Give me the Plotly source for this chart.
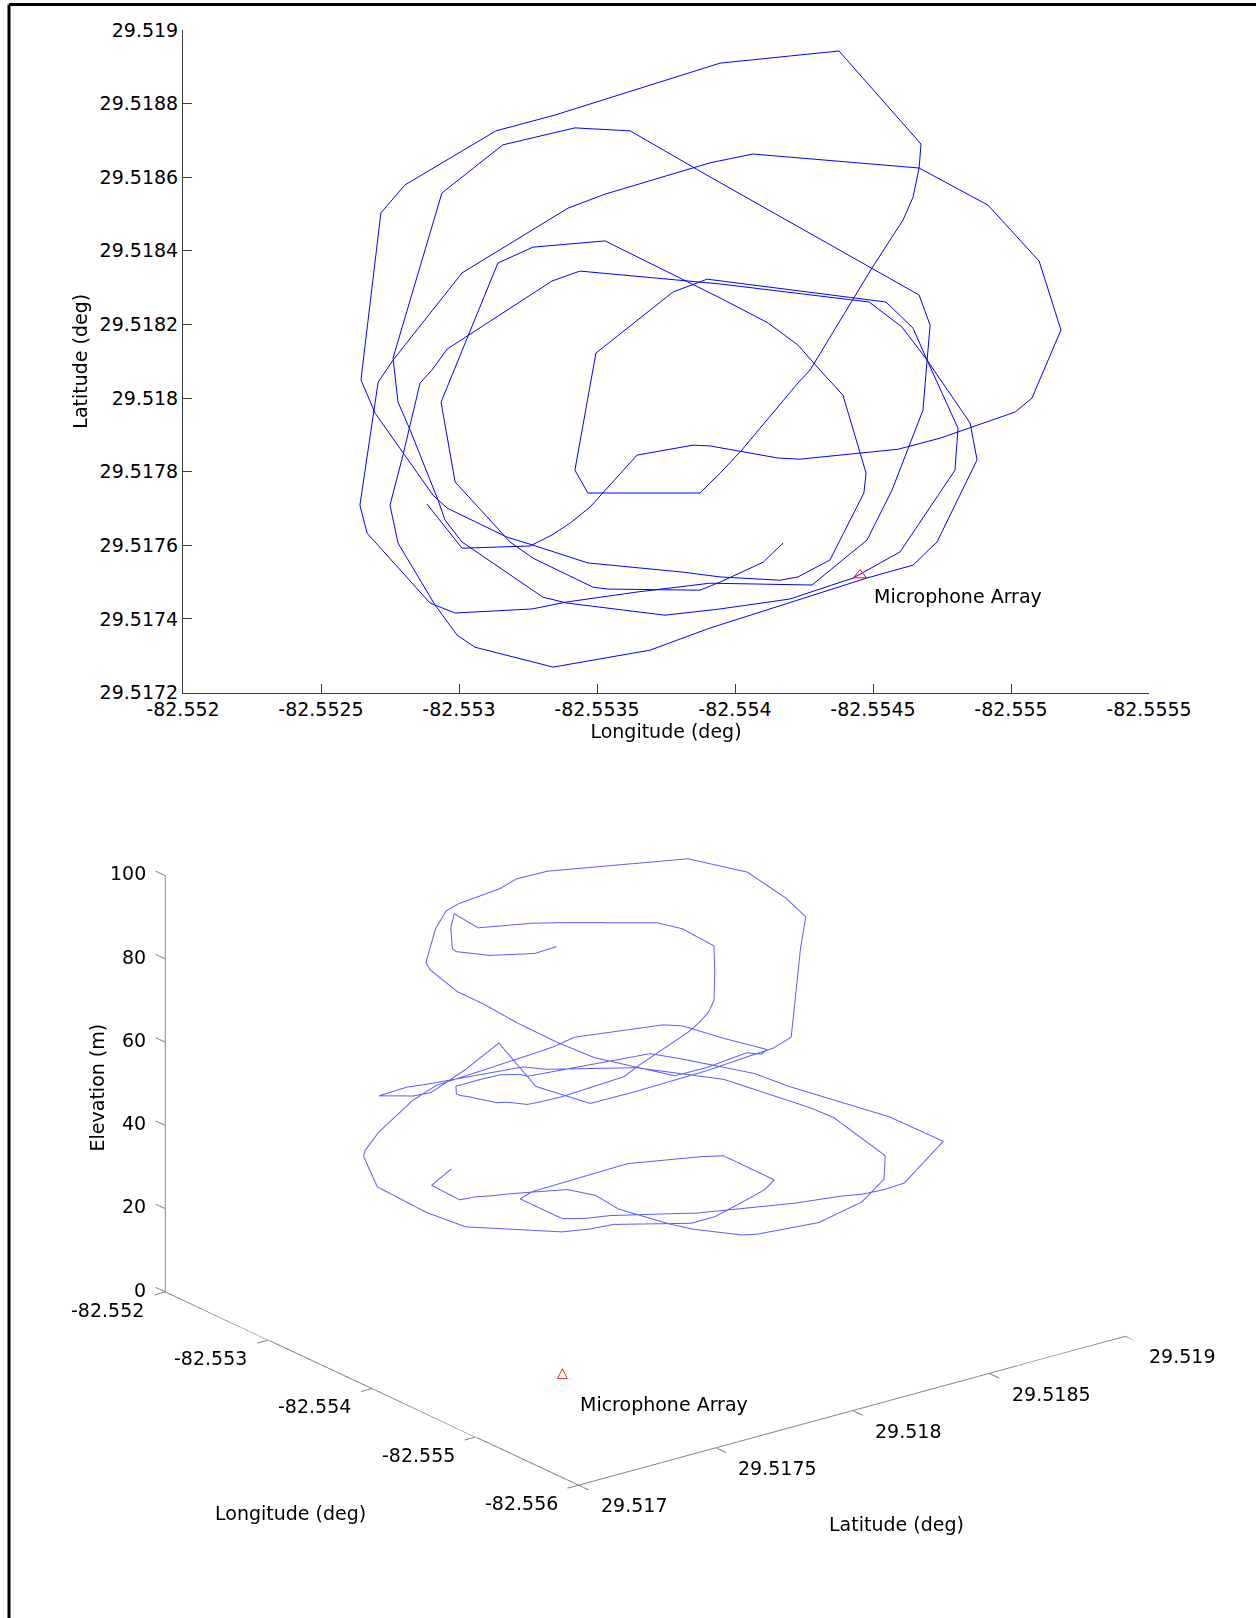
import plotly.graph_objects as go

# ---------------- data (flight track) ----------------
lon = [-82.552884, -82.553011, -82.553257, -82.553337, -82.553402, -82.553475, -82.553645, -82.553848, -82.553909,
       -82.554156, -82.554236, -82.554591, -82.554743, -82.555015, -82.555076, -82.555181, -82.555102, -82.554917,
       -82.554667, -82.554065, -82.553909,
       -82.553529, -82.553395, -82.553011, -82.552761,
       -82.552707, -82.552641, -82.552667, -82.552895, -82.552986, -82.553265, -82.553391, -82.553645, -82.553909,
       -82.554279, -82.554478, -82.554569, -82.554681, -82.554696,
       -82.554707, -82.554667, -82.553909,
       -82.553620, -82.553420, -82.553159, -82.552938, -82.552761,
       -82.552779, -82.552823, -82.552924, -82.552949, -82.553011, -82.553304, -82.553391, -82.553746, -82.553946,
       -82.554199, -82.554428, -82.554598, -82.554797, -82.554808, -82.554696,
       -82.554605, -82.554486, -82.553946,
       -82.553438, -82.553337, -82.552957, -82.552902,
       -82.552859, -82.552797, -82.552750, -82.552779, -82.552913, -82.552993, -82.553058, -82.553341, -82.553692,
       -82.553909,
       -82.554478, -82.554645, -82.554732, -82.554877, -82.554852, -82.554696,
       -82.554645, -82.554547, -82.553899,
       -82.553775, -82.553496, -82.553420, -82.553467, -82.553873, -82.553946,
       -82.554025, -82.554228, -82.554272, -82.554496, -82.554609, -82.554645, -82.554667, -82.554674, -82.554377,
       -82.553946,
       -82.553348, -82.553134, -82.552804, -82.552717, -82.552649,
       -82.552645, -82.552696, -82.552797, -82.552906, -82.552957, -82.553174, -82.553257, -82.553467, -82.553812,
       -82.553946,
       -82.554163, -82.554228, -82.554344, -82.554467, -82.554475, -82.554391, -82.554308, -82.554228, -82.554120,
       -82.553946,
       -82.553529, -82.553268, -82.553141, -82.552989,
       -82.552935, -82.552986, -82.553185, -82.553268, -82.553486, -82.553540, -82.553873, -82.553946,
       -82.554102, -82.554174]

lat = [29.517712, 29.517592, 29.517598, 29.517628, 29.517660, 29.517704, 29.517845, 29.517872, 29.517870,
       29.517837, 29.517834, 29.517861, 29.517891, 29.517962, 29.518000, 29.518185, 29.518372, 29.518524,
       29.518625, 29.518663, 29.518639,
       29.518554, 29.518516, 29.518340, 29.518103,
       29.518043, 29.517709, 29.517633, 29.517443, 29.517416, 29.517427, 29.517446, 29.517473, 29.517497,
       29.517492, 29.517614, 29.517750, 29.517967, 29.518103,
       29.518198, 29.518280, 29.518601,
       29.518726, 29.518734, 29.518688, 29.518557, 29.518109,
       29.517989, 29.517913, 29.517723, 29.517669, 29.517609, 29.517459, 29.517443, 29.517410, 29.517427,
       29.517454, 29.517511, 29.517582, 29.517804, 29.517918, 29.518103,
       29.518193, 29.518261, 29.518310,
       29.518345, 29.518318, 29.518133, 29.518076,
       29.518041, 29.517845, 29.517709, 29.517606, 29.517438, 29.517356, 29.517323, 29.517269, 29.517315,
       29.517375,
       29.517511, 29.517546, 29.517609, 29.517832, 29.517932, 29.518103,
       29.518190, 29.518261, 29.518323,
       29.518288, 29.518122, 29.517804, 29.517742, 29.517742, 29.517796,
       29.517859, 29.518041, 29.518076, 29.518353, 29.518484, 29.518546, 29.518625, 29.518690, 29.518943,
       29.518910,
       29.518769, 29.518726, 29.518579, 29.518503, 29.518076,
       29.518049, 29.517959, 29.517851, 29.517736, 29.517701, 29.517622, 29.517603, 29.517552, 29.517527,
       29.517514,
       29.517505, 29.517514, 29.517560, 29.517742, 29.517796, 29.518008, 29.518076, 29.518144, 29.518204,
       29.518272,
       29.518427, 29.518410, 29.518367, 29.518090,
       29.517989, 29.517772, 29.517609, 29.517565, 29.517486, 29.517481, 29.517478, 29.517500,
       29.517554, 29.517606]

elev = [27, 26.6, 26, 27, 27.5, 28, 28.5, 29, 29,
        30, 30.5, 31, 31, 31.5, 31.6, 32.4, 33, 33.7,
        34.6, 36, 37,
        39, 40, 41.5, 42.5,
        43.5, 44.5, 45.5, 49.5, 51, 54, 56, 64, 73,
        67, 63, 64.5, 67, 68,
        68.5, 69.2, 76,
        78, 80, 84, 87, 90,
        90.5, 90, 91, 90.5, 88, 86, 85.5, 85, 84,
        82, 79, 76, 70, 70, 69,
        66, 64.5, 60,
        56.5, 56, 52, 50,
        49, 47, 45.5, 44, 41, 39, 39, 36, 33,
        31,
        34, 36, 37, 35, 34.5, 33.7,
        34, 34, 31,
        30, 28, 26, 26, 26, 26,
        26.5, 26, 26, 26, 26.7, 26.5, 26.5, 27, 29,
        30.5,
        33.4, 34.6, 37, 38.6, 40,
        41, 43, 45, 47, 48, 50, 51, 54, 57,
        59,
        61, 62, 64, 67, 69, 72, 72, 72.4, 73,
        77,
        75.3, 76.7, 77.4, 80.6,
        81.7, 85, 93.7, 92, 91, 91, 94, 94.6,
        95.7, 97.3]

mic_lon = [-82.554453]
mic_lat = [29.517519]
mic_elev = [0]
mic_label = "Microphone Array"

lon_ticks_2d = [-82.552, -82.5525, -82.553, -82.5535, -82.554, -82.5545, -82.555, -82.5555]
lat_ticks_2d = [29.5172, 29.5174, 29.5176, 29.5178, 29.518, 29.5182, 29.5184, 29.5186, 29.5188, 29.519]

lon_ticks_3d = [-82.552, -82.553, -82.554, -82.555, -82.556]
lat_ticks_3d = [29.517, 29.5175, 29.518, 29.5185, 29.519]
elev_ticks_3d = [0, 20, 40, 60, 80, 100]

# ---------------- styling ----------------
W, H = 1256, 1618
FONT = "DejaVu Sans"
FS = 19
AX2D = "#3c3c3c"
AX3D = "#858585"

fig = go.Figure()

# ---------- top: 2-D track ----------
fig.add_trace(go.Scatter(x=lon, y=lat, mode="lines", line=dict(color="#0000ff", width=1),
                         hoverinfo="skip", showlegend=False, xaxis="x", yaxis="y"))
fig.add_trace(go.Scatter(x=mic_lon, y=mic_lat, mode="markers",
                         marker=dict(symbol="triangle-up-open", size=11, color="red", line=dict(color="red", width=1)),
                         hoverinfo="skip", showlegend=False, xaxis="x", yaxis="y"))

x0p, x1p = 183 / W, 1149 / W
y0p, y1p = (H - 692.5) / H, (H - 30) / H

fig.update_layout(
    xaxis=dict(domain=[x0p, x1p], range=[lon_ticks_2d[0], lon_ticks_2d[-1]],
               tickmode="array", tickvals=lon_ticks_2d, ticktext=[f"{v:g}" for v in lon_ticks_2d],
               ticks="inside", ticklen=9, tickwidth=1, tickcolor=AX2D,
               showline=True, linecolor=AX2D, linewidth=1, mirror=False,
               showgrid=False, zeroline=False, automargin=False,
               tickfont=dict(family=FONT, size=FS, color="black"),
               title=dict(text="Longitude (deg)", font=dict(family=FONT, size=FS, color="black"), standoff=4),
               anchor="y"),
    yaxis=dict(domain=[y0p, y1p], range=[lat_ticks_2d[0], lat_ticks_2d[-1]],
               tickmode="array", tickvals=lat_ticks_2d, ticktext=[f"{v:g}" for v in lat_ticks_2d],
               ticks="inside", ticklen=9, tickwidth=1, tickcolor=AX2D,
               showline=True, linecolor=AX2D, linewidth=1, mirror=False,
               showgrid=False, zeroline=False, automargin=False,
               tickfont=dict(family=FONT, size=FS, color="black"),
               title=dict(text="Latitude (deg)", font=dict(family=FONT, size=FS, color="black"), standoff=6),
               anchor="x"),
)

annotations = [dict(x=mic_lon[0], y=mic_lat[0], xref="x", yref="y", text=mic_label, showarrow=False,
                    xanchor="left", yanchor="middle", xshift=12, yshift=-21,
                    font=dict(family=FONT, size=FS, color="black"))]

# ---------- bottom: 3-D track ----------
lat_lo, lat_hi = 29.5169, 29.519
lon_lo, lon_hi = -82.5562, -82.5518
z_lo, z_hi = -1, 101

fig.add_trace(go.Scatter3d(x=lat, y=lon, z=elev, mode="lines",
                           line=dict(color="#5c5cff", width=2), hoverinfo="skip", showlegend=False, scene="scene"))

# axis lines (MATLAB-style: three edges only), one trace per edge
edge_style = dict(mode="lines", line=dict(color=AX3D, width=2), hoverinfo="skip", showlegend=False, scene="scene")
fig.add_trace(go.Scatter3d(x=[lat_ticks_3d[0]] * 2, y=[lon_ticks_3d[0]] * 2,
                           z=[elev_ticks_3d[0], elev_ticks_3d[-1]], **edge_style))
fig.add_trace(go.Scatter3d(x=[lat_ticks_3d[0]] * 3,
                           y=[lon_ticks_3d[0], (lon_ticks_3d[0] + lon_ticks_3d[-1]) / 2, lon_ticks_3d[-1]],
                           z=[0, 0, 0], **edge_style))
fig.add_trace(go.Scatter3d(x=[lat_ticks_3d[0], (lat_ticks_3d[0] + lat_ticks_3d[-1]) / 2, lat_ticks_3d[-1]],
                           y=[lon_ticks_3d[-1]] * 3, z=[0, 0, 0], **edge_style))

# tick marks
tk_x, tk_y, tk_z = [], [], []
dlat, dlon = 0.00004, 0.00009
for t in elev_ticks_3d:
    tk_x += [lat_ticks_3d[0], lat_ticks_3d[0], None]
    tk_y += [lon_ticks_3d[0], lon_ticks_3d[0] + dlon, None]
    tk_z += [t, t, None]
for t in lon_ticks_3d:
    tk_x += [lat_ticks_3d[0], lat_ticks_3d[0] - dlat, None]
    tk_y += [t, t, None]
    tk_z += [0, 0, None]
for t in lat_ticks_3d:
    tk_x += [t, t, None]
    tk_y += [lon_ticks_3d[-1], lon_ticks_3d[-1] - dlon, None]
    tk_z += [0, 0, None]
fig.add_trace(go.Scatter3d(x=tk_x, y=tk_y, z=tk_z, **edge_style))

tf = dict(family=FONT, size=FS, color="black")
scene_ann = []
for t in elev_ticks_3d:
    scene_ann.append(dict(x=lat_ticks_3d[0], y=lon_ticks_3d[0], z=t, text=f"{t:g}", showarrow=False,
                          xanchor="right", yanchor="middle", xshift=-18, yshift=2, font=tf))
for t in lon_ticks_3d:
    scene_ann.append(dict(x=lat_ticks_3d[0], y=t, z=0, text=f"{t:g}", showarrow=False,
                          xanchor="right", yanchor="middle", xshift=-20, yshift=-18, font=tf))
for t in lat_ticks_3d:
    scene_ann.append(dict(x=t, y=lon_ticks_3d[-1], z=0, text=f"{t:g}", showarrow=False,
                          xanchor="left", yanchor="middle", xshift=19, yshift=-20, font=tf))
scene_ann.append(dict(x=lat_ticks_3d[0], y=lon_ticks_3d[2], z=0, text="Longitude (deg)", showarrow=False,
                      xanchor="center", yanchor="middle", xshift=-83, yshift=-125, font=tf))
scene_ann.append(dict(x=lat_ticks_3d[2], y=lon_ticks_3d[-1], z=0, text="Latitude (deg)", showarrow=False,
                      xanchor="center", yanchor="middle", xshift=43, yshift=-113, font=tf))
scene_ann.append(dict(x=lat_ticks_3d[0], y=lon_ticks_3d[0], z=50, text="Elevation (m)", showarrow=False,
                      xanchor="center", yanchor="middle", xshift=-69, yshift=-4, textangle=-90, font=tf))
scene_ann.append(dict(x=mic_lat[0], y=mic_lon[0], z=mic_elev[0], text="\u25b3", showarrow=False,
                      xanchor="center", yanchor="middle", font=dict(family=FONT, size=14, color="red")))
scene_ann.append(dict(x=mic_lat[0], y=mic_lon[0], z=mic_elev[0], text=mic_label, showarrow=False,
                      xanchor="left", yanchor="middle", xshift=16, yshift=-32, font=tf))

hidden = dict(showgrid=False, showline=False, zeroline=False, showticklabels=False, ticks="",
              showbackground=False, showspikes=False, title=dict(text=""))

r = 1.1485
eye_dir = (-0.5667, -0.7427, 0.3568)
k = 1.40

fig.update_layout(
    scene=dict(
        domain=dict(x=[0.0146, 0.9934], y=[0.0, 0.6284]),
        xaxis=dict(range=[lat_lo, lat_hi], **hidden),
        yaxis=dict(range=[lon_lo, lon_hi], **hidden),
        zaxis=dict(range=[z_lo, z_hi], **hidden),
        aspectmode="manual",
        aspectratio=dict(x=1.015 * k, y=1.0551 * k, z=0.6384 * k),
        camera=dict(projection=dict(type="orthographic"),
                    eye=dict(x=eye_dir[0] * r, y=eye_dir[1] * r, z=eye_dir[2] * r),
                    up=dict(x=0, y=0, z=1), center=dict(x=0, y=0, z=0)),
        annotations=scene_ann,
        dragmode=False,
        hovermode=False,
    ),
    annotations=annotations,
    shapes=[
        dict(type="line", xref="paper", yref="paper", x0=9 / W, x1=1, y0=(H - 4.5) / H, y1=(H - 4.5) / H,
             line=dict(color="black", width=3)),
        dict(type="line", xref="paper", yref="paper", x0=9 / W, x1=9 / W, y0=0, y1=(H - 4.5) / H,
             line=dict(color="black", width=3)),
    ],
    width=W, height=H, autosize=False,
    margin=dict(l=0, r=0, t=0, b=0),
    paper_bgcolor="white", plot_bgcolor="white",
    hovermode=False, showlegend=False,
    font=dict(family=FONT, size=FS, color="black"),
)

fig.write_html("out.html", config={"displayModeBar": False},
               post_script="document.body.style.margin='0px';document.body.style.overflow='hidden';")
